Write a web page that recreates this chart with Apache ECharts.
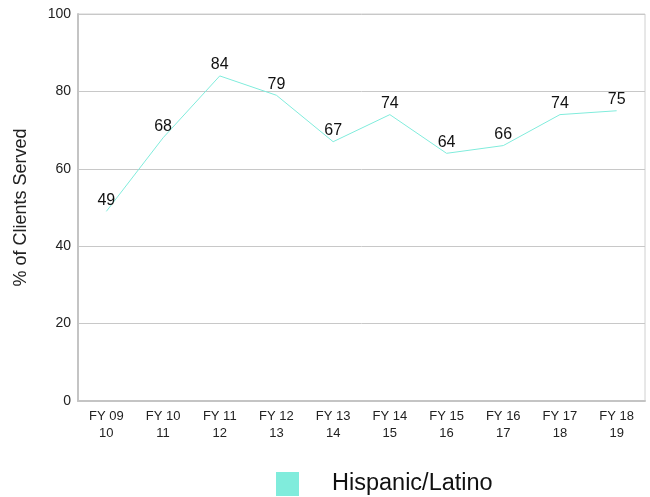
<!DOCTYPE html>
<html>
<head>
<meta charset="utf-8">
<script src="https://cdn.jsdelivr.net/npm/echarts@6/dist/echarts.min.js"></script>
<style>
  html, body { margin: 0; padding: 0; background: #fff; }
  #chart { width: 650px; height: 497px; }
</style>
</head>
<body>
<div id="chart"></div>
<script>
// Fiscal years (two-line labels) and share of clients served who are Hispanic/Latino
const fiscalYears = ['FY 09\n10', 'FY 10\n11', 'FY 11\n12', 'FY 12\n13', 'FY 13\n14',
                     'FY 14\n15', 'FY 15\n16', 'FY 16\n17', 'FY 17\n18', 'FY 18\n19'];
const hispanicLatino = [49, 68, 84, 79, 67, 74, 64, 66, 74, 75];
const seriesName = 'Hispanic/Latino';
const yTicks = { min: 0, max: 100, interval: 20 };

const chart = echarts.init(document.getElementById('chart'), null, { renderer: 'canvas' });
const font = 'Liberation Sans, Arial, sans-serif';
const teal = '#80ecdc';

chart.setOption({
  animation: false,
  textStyle: { fontFamily: font },
  grid: {
    left: 78, right: 5, top: 14, bottom: 96,
    show: true, borderColor: '#d0d0d0', borderWidth: 1
  },
  legend: {
    data: [{ name: seriesName, itemStyle: { color: teal, opacity: 1 } }],
    bottom: 1,
    left: 276,
    padding: 0,
    icon: 'rect',
    itemWidth: 23,
    itemHeight: 24,
    itemGap: 10,
    textStyle: { fontSize: 23.5, color: '#111', padding: [0, 0, 9, 28], fontFamily: font }
  },
  xAxis: {
    type: 'category',
    data: fiscalYears,
    boundaryGap: true,
    axisLine: { lineStyle: { color: '#c4c4c4', width: 2 } },
    axisTick: { show: false },
    axisLabel: { color: '#222', fontSize: 13, lineHeight: 17, margin: 7, interval: 0 }
  },
  yAxis: {
    type: 'value',
    min: yTicks.min, max: yTicks.max, interval: yTicks.interval,
    name: '% of Clients Served',
    nameLocation: 'middle',
    nameGap: 48,
    nameTextStyle: { fontSize: 18, color: '#222' },
    axisLine: { show: true, lineStyle: { color: '#c4c4c4', width: 2 } },
    axisTick: { show: false },
    splitLine: { lineStyle: { color: '#c8c8c8', width: 1 } },
    axisLabel: { color: '#222', fontSize: 14, margin: 7 }
  },
  series: [{
    name: seriesName,
    type: 'line',
    data: hispanicLatino,
    color: teal,
    symbol: 'circle',
    symbolSize: 0.1,
    showSymbol: true,
    itemStyle: { color: teal },
    lineStyle: { color: teal, width: 1 },
    label: {
      show: true,
      position: 'top',
      distance: 3,
      fontSize: 16,
      color: '#111'
    }
  }]
});
</script>
</body>
</html>
